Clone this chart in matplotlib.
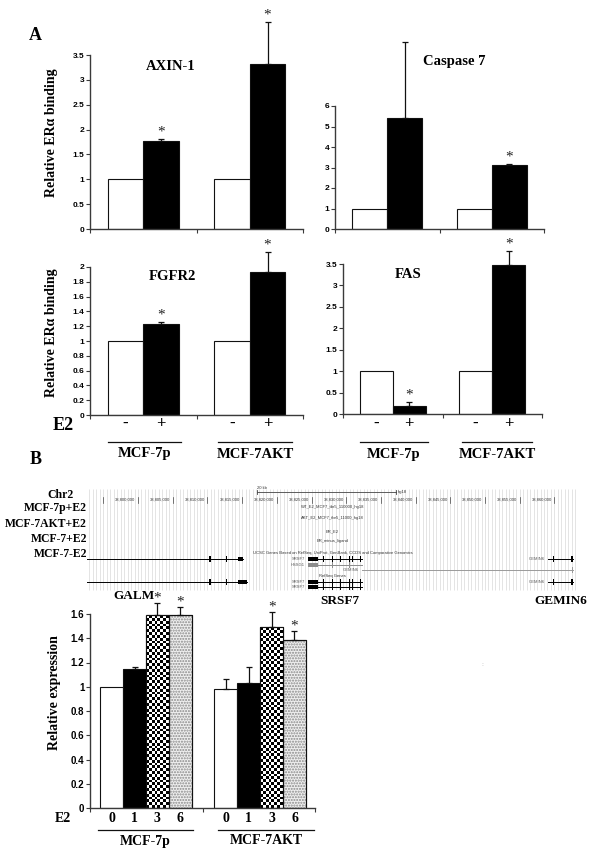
import numpy as np
import matplotlib
matplotlib.use('Agg')
import matplotlib.pyplot as plt
from matplotlib.transforms import blended_transform_factory, offset_copy

plt.rcParams['font.family'] = ['Liberation Serif', 'DejaVu Serif']
SANS = 'Liberation Sans'

# ---------------- data ----------------
groups = ['MCF-7p', 'MCF-7AKT']
treat = ['-', '+']

axin_vals = [1.0, 1.77, 1.0, 3.31]
axin_err = [0.0, 0.04, 0.0, 0.86]
axin_sig = [0, 1, 0, 1]

casp_vals = [1.0, 5.42, 1.0, 3.10]
casp_err = [0.0, 3.70, 0.0, 0.05]
casp_sig = [0, 0, 0, 1]

fgfr2_vals = [1.0, 1.225, 1.0, 1.93]
fgfr2_err = [0.0, 0.035, 0.0, 0.27]
fgfr2_sig = [0, 1, 0, 1]

fas_vals = [1.0, 0.19, 1.0, 3.48]
fas_err = [0.0, 0.08, 0.0, 0.33]
fas_sig = [0, 1, 0, 1]

axin_ticks = [0, 0.5, 1, 1.5, 2, 2.5, 3, 3.5]
casp_ticks = [0, 1, 2, 3, 4, 5, 6]
fgfr2_ticks = [0, 0.2, 0.4, 0.6, 0.8, 1, 1.2, 1.4, 1.6, 1.8, 2]
fas_ticks = [0, 0.5, 1, 1.5, 2, 2.5, 3, 3.5]

e2_hours = ['0', '1', '3', '6']
expr_p = [1.0, 1.146, 1.589, 1.59]
expr_p_err = [0.0, 0.02, 0.10, 0.07]
expr_p_sig = [0, 0, 1, 1]
expr_akt = [0.983, 1.027, 1.49, 1.388]
expr_akt_err = [0.08, 0.14, 0.13, 0.07]
expr_akt_sig = [0, 0, 1, 1]
expr_ticks = [0, 0.2, 0.4, 0.6, 0.8, 1, 1.2, 1.4, 1.6]

# genome browser (hg18)
chrom = 'Chr2'
track_labels = ['MCF-7p+E2', 'MCF-7AKT+E2', 'MCF-7+E2', 'MCF-7-E2']
track_names = ['WT_E2_MCF7_tbr5_110000_hg18', 'AKT_E2_MCF7_tbr5_11000_hg18',
               'ER_E2', 'ER_minus_ligand']
ucsc_title = 'UCSC Genes Based on RefSeq, UniProt, GenBank, CCDS and Comparative Genomics'
refseq_title = 'RefSeq Genes'
view_start, view_end = 38792650, 38863400
ruler_ticks = list(range(38795000, 38860001, 5000))
scale_bar = (38817150, 38837150)
scale_label = '20 kb'
assembly = 'hg18'
galm_exons = [(38810300, 38810420), (38812620, 38812740), (38814350, 38815130)]
galm_exons2 = [(38810300, 38810420), (38812620, 38812740), (38814350, 38815700)]
srsf7_exons = [(38824500, 38825940), (38826600, 38826700), (38827900, 38828000),
               (38829050, 38829150), (38830350, 38830450), (38830800, 38830900),
               (38831950, 38832050)]
hssg1_exons = [(38824500, 38825940), (38827900, 38828000), (38830350, 38830450)]
gemin6_exons = [(38859750, 38859850), (38862400, 38862680)]
gemin6_long_exons = [(38862500, 38862680)]
# name, track row, tx start, tx end, exons, colour
genes = [
    ('GALM', 'ucsc1', 38780000, 38815130, galm_exons, 'black'),
    ('SRSF7', 'ucsc1', 38824500, 38832280, srsf7_exons, 'black'),
    ('HSSG1', 'ucsc2', 38824500, 38832280, hssg1_exons, '#8c8c8c'),
    ('GEMIN6', 'ucsc3', 38832280, 38862680, gemin6_long_exons, '#9a9a9a'),
    ('GEMIN6', 'ucsc1', 38859080, 38862680, gemin6_exons, 'black'),
    ('GALM', 'ref1', 38780000, 38815700, galm_exons2, 'black'),
    ('SRSF7', 'ref1', 38824500, 38832280, srsf7_exons, 'black'),
    ('SRSF7', 'ref2', 38824500, 38832280, srsf7_exons, 'black'),
    ('GEMIN6', 'ref1', 38859080, 38862680, gemin6_exons, 'black'),
]
gene_captions = ['GALM', 'SRSF7', 'GEMIN6']

# ---------------- helpers ----------------
W, H = 600, 860
fig = plt.figure(figsize=(6, 8.6), dpi=100)


def add_ax(x0, x1, y0, y1):
    return fig.add_axes([x0 / W, 1 - y1 / H, (x1 - x0) / W, (y1 - y0) / H])


def ftext(x, y, s, **kw):
    return fig.text(x / W, 1 - y / H, s, **kw)


SPINE = '#3a3a3a'


def style_axes(ax, yticks, xlim, xticks, tick_fs=6):
    for s in ('top', 'right'):
        ax.spines[s].set_visible(False)
    for s in ('left', 'bottom'):
        ax.spines[s].set_color(SPINE)
        ax.spines[s].set_linewidth(1.0)
    ax.set_ylim(yticks[0], yticks[-1])
    ax.set_xlim(*xlim)
    ax.set_yticks(yticks)
    ax.set_yticklabels([f'{v:g}' for v in yticks], fontfamily=SANS,
                       fontweight='bold', fontsize=tick_fs)
    ax.set_xticks(xticks)
    ax.set_xticklabels([])
    ax.tick_params(axis='both', direction='out', length=3, width=0.8,
                   color=SPINE, pad=1)
    ax.patch.set_alpha(0)


def draw_bars(ax, pos, vals, styles, width=1.0):
    for x, v, st in zip(pos, vals, styles):
        face = {'white': 'white', 'black': 'black', 'dots': '#efefef',
                'checker': 'white'}[st]
        r = ax.bar(x, v, width, color=face, edgecolor='#111', linewidth=0.8,
                   zorder=2)[0]
        if st == 'dots':
            ax.bar(x, v, width, color='none', edgecolor='#8a8a8a',
                   hatch='......', linewidth=0, zorder=2.1)
        if st == 'checker':
            ncols = 8
            nrows = max(1, int(round(v / 0.0235)))
            arr = np.indices((nrows, ncols)).sum(axis=0) % 2
            im = ax.imshow(arr, cmap='gray', extent=(x - width / 2, x + width / 2, 0, v),
                           aspect='auto', interpolation='nearest', origin='lower',
                           zorder=2.1)
            im.set_clip_path(r)
        if st in ('dots', 'checker'):
            ax.bar(x, v, width, color='none', edgecolor='#111', linewidth=0.8,
                   zorder=2.5)


def draw_err(ax, pos, vals, errs):
    p = [x for x, e in zip(pos, errs) if e > 0]
    v = [y for y, e in zip(vals, errs) if e > 0]
    e = [e for e in errs if e > 0]
    eb = ax.errorbar(p, v, yerr=[np.zeros(len(e)), e], fmt='none', ecolor='#111',
                     elinewidth=0.9, capsize=2.5, capthick=0.9, zorder=3)
    for a in list(eb[1]) + list(eb[2]):
        a.set_clip_on(False)


def draw_stars(ax, pos, vals, errs, sig, off_pt):
    for x, v, e, s in zip(pos, vals, errs, sig):
        if s:
            ax.annotate('*', xy=(x, v + e), xytext=(0, off_pt),
                        textcoords='offset points', ha='center', va='baseline',
                        fontsize=11, annotation_clip=False, color='#222')


def below(ax, dy_px):
    tr = blended_transform_factory(ax.transData, ax.transAxes)
    return offset_copy(tr, fig=fig, x=0, y=-dy_px, units='dots')


def group_labels(ax, pos, labels, sub, dy_sub, dy_line, dy_lab, fs_sub, fs_lab,
                 spans):
    t_sub = below(ax, dy_sub)
    for x, s in zip(pos, sub):
        ax.text(x, 0, s, transform=t_sub, ha='center', va='center',
                fontsize=fs_sub, fontweight='bold', clip_on=False)
    t_line = below(ax, dy_line)
    t_lab = below(ax, dy_lab)
    for (a, b), lab in zip(spans, labels):
        ax.plot([a, b], [0, 0], transform=t_line, color='#111', lw=0.9,
                clip_on=False)
        ax.text((a + b) / 2, 0, lab, transform=t_lab, ha='center', va='center',
                fontsize=fs_lab, fontweight='bold', clip_on=False)


chip_pos = [1, 2, 4, 5]
chip_styles = ['white', 'black', 'white', 'black']
chip_sub = treat * 2


def chip_panel(box, vals, errs, sig, ticks, title, title_xy):
    ax = add_ax(*box)
    draw_bars(ax, chip_pos, vals, chip_styles)
    draw_err(ax, chip_pos, vals, errs)
    draw_stars(ax, chip_pos, vals, errs, sig, 2.5)
    style_axes(ax, ticks, (0, 6), [0, 3, 6])
    ftext(*title_xy, title, ha='center', va='center', fontsize=10.5,
          fontweight='bold')
    return ax


ax1 = chip_panel((90, 303, 55, 229), axin_vals, axin_err, axin_sig, axin_ticks,
                 'AXIN-1', (171, 66))
ax2 = chip_panel((335, 544, 106, 229), casp_vals, casp_err, casp_sig, casp_ticks,
                 'Caspase 7', (454, 62))
ax3 = chip_panel((90, 303, 267, 415), fgfr2_vals, fgfr2_err, fgfr2_sig, fgfr2_ticks,
                 'FGFR2', (172, 276))
ax4 = chip_panel((343, 542, 264, 414), fas_vals, fas_err, fas_sig, fas_ticks,
                 'FAS', (408, 274))

spans_top = [(0.5, 2.55), (3.6, 5.7)]
group_labels(ax3, chip_pos, groups, chip_sub, 9, 27, 39, 12, 10.5, spans_top)
group_labels(ax4, chip_pos, groups, chip_sub, 10, 28, 40, 12, 10.5, spans_top)

ftext(35, 36, 'A', ha='center', va='center', fontsize=13, fontweight='bold')
ftext(63, 425, 'E2', ha='center', va='center', fontsize=13, fontweight='bold')
ftext(52, 133, 'Relative ER\u03b1 binding', rotation=90, ha='center', va='center',
      fontsize=10, fontweight='bold')
ftext(52, 333, 'Relative ER\u03b1 binding', rotation=90, ha='center', va='center',
      fontsize=10, fontweight='bold')
ftext(36, 460, 'B', ha='center', va='center', fontsize=13, fontweight='bold')

# ---------------- genome browser ----------------
axb = add_ax(87, 578, 486, 592)
axb.set_xlim(view_start, view_end)
axb.set_ylim(592, 486)
axb.axis('off')
guides = np.arange((view_start // 500 + 1) * 500, view_end, 500)
axb.vlines(guides, 489, 590, color='#d9d9d9', lw=0.5, zorder=0)
for t in ruler_ticks:
    axb.plot([t, t], [497, 503], color='#444', lw=0.5, zorder=2)
    if t > ruler_ticks[0]:
        axb.text(t - 350, 500, f'{t:,}', ha='right', va='center', fontsize=3,
                 family=SANS, color='#333', zorder=2)
axb.plot(scale_bar, [492, 492], color='#444', lw=0.6)
axb.plot([scale_bar[0]] * 2, [490, 494], color='#444', lw=0.6)
axb.plot([scale_bar[1]] * 2, [490, 494], color='#444', lw=0.6)
axb.text(scale_bar[0], 490, scale_label, ha='left', va='bottom', fontsize=3,
         family=SANS, color='#333')
axb.text(scale_bar[1] + 300, 492, assembly, ha='left', va='center', fontsize=3,
         family=SANS, color='#333')
name_rows = [507, 518, 531, 541]
for y, nm in zip(name_rows, track_names):
    axb.text(0.5, y, nm, transform=blended_transform_factory(axb.transAxes, axb.transData),
             ha='center', va='center', fontsize=3, family=SANS, color='#333')
axb.text(0.5, 553, ucsc_title, transform=blended_transform_factory(axb.transAxes, axb.transData),
         ha='center', va='center', fontsize=3, family=SANS, color='#333')
axb.text(0.5, 576, refseq_title, transform=blended_transform_factory(axb.transAxes, axb.transData),
         ha='center', va='center', fontsize=3, family=SANS, color='#333')

row_y = {'ucsc1': 559, 'ucsc2': 565, 'ucsc3': 570, 'ref1': 582, 'ref2': 587}
for name, row, s, e, exons, col in genes:
    y = row_y[row]
    axb.plot([s, e], [y, y], color=col, lw=0.7, zorder=3)
    for a, b in exons:
        w = max(b - a, 150)
        hgt = 4.5 if (b - a) > 400 else 5.5
        axb.add_patch(plt.Rectangle((a, y - hgt / 2), w, hgt, color=col, lw=0,
                                    zorder=4))
    if s > view_start:
        axb.text(s - 500, y, name, ha='right', va='center', fontsize=3,
                 family=SANS, color='#555', zorder=4)

ftext(74, 495, chrom, ha='right', va='center', fontsize=8.5, fontweight='bold')
for y, lab in zip([508, 524, 539, 554], track_labels):
    ftext(87, y, lab, ha='right', va='center', fontsize=8.5, fontweight='bold')

for x, y, g in zip([134, 340, 561], [596, 601, 601], gene_captions):
    ftext(x, y, g, ha='center', va='center', fontsize=9.5, fontweight='bold')
ftext(482, 665, ':', ha='center', va='center', fontsize=5, color='#aaaaaa')

# ---------------- expression bar chart ----------------
axe = add_ax(90, 315, 614, 808)
pos_p = [1, 2, 3, 4]
pos_akt = [6, 7, 8, 9]
styles = ['white', 'black', 'checker', 'dots']
draw_bars(axe, pos_p, expr_p, styles)
draw_bars(axe, pos_akt, expr_akt, styles)
draw_err(axe, pos_p, expr_p, expr_p_err)
draw_err(axe, pos_akt, expr_akt, expr_akt_err)
draw_stars(axe, pos_p, expr_p, expr_p_err, expr_p_sig, 1)
draw_stars(axe, pos_akt, expr_akt, expr_akt_err, expr_akt_sig, 1)
style_axes(axe, expr_ticks, (0.05, 9.9), [0.05, 5, 9.9], tick_fs=7)
group_labels(axe, pos_p + pos_akt, groups, e2_hours * 2, 10, 22, 33, 10, 10,
             [(0.4, 4.55), (5.65, 9.85)])
ftext(63, 818, 'E2', ha='center', va='center', fontsize=10, fontweight='bold')
ftext(55, 693, 'Relative expression', rotation=90, ha='center', va='center',
      fontsize=10, fontweight='bold')

fig.savefig('out.png', dpi=100)
